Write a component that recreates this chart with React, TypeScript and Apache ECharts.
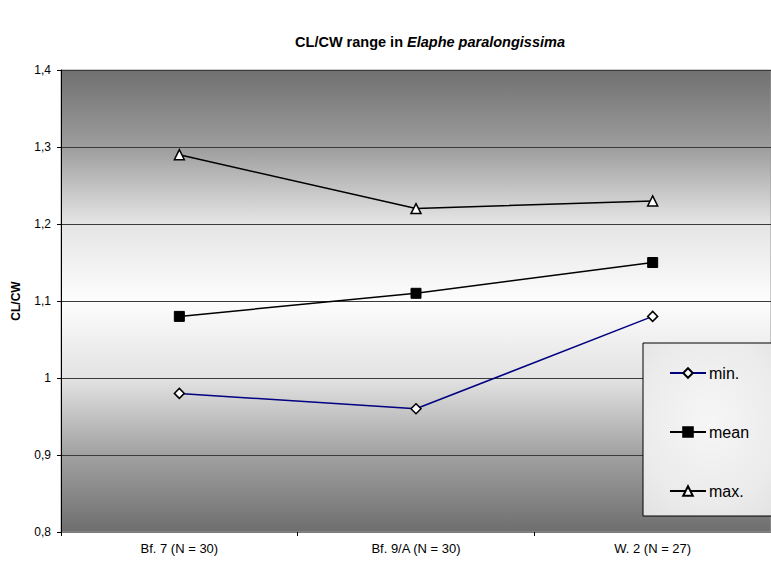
import React, { useEffect, useRef } from "react";
import * as echarts from "echarts";

const categories = ["Bf. 7 (N = 30)", "Bf. 9/A (N = 30)", "W. 2 (N = 27)"];
const minValues = [0.98, 0.96, 1.08];
const meanValues = [1.08, 1.11, 1.15];
const maxValues = [1.29, 1.22, 1.23];
const yTicks = { min: 0.8, max: 1.4, interval: 0.1 };

const FONT = "Liberation Sans, Arial, sans-serif";

export default function App() {
  const ref = useRef<HTMLDivElement>(null);
  useEffect(() => {
    if (!ref.current) return;
    const chart = echarts.init(ref.current, undefined, { renderer: "svg" });
    chart.setOption({
      animation: false,
      backgroundColor: "#ffffff",
      textStyle: { fontFamily: FONT },
      title: {
        text: "{b|CL/CW range in }{i|Elaphe paralongissima}",
        left: 425,
        top: 29,
        textAlign: "center",
        textStyle: {
          rich: {
            b: { fontFamily: FONT, fontWeight: "bold", fontSize: 14.5, color: "#000" },
            i: { fontFamily: FONT, fontWeight: "bold", fontStyle: "italic", fontSize: 14.5, color: "#000" },
          },
        },
      },
      grid: {
        left: 61,
        top: 70,
        width: 721,
        height: 462,
        show: true,
        borderColor: "#9a9a9a",
        borderWidth: 1,
        backgroundColor: {
          type: "linear",
          x: 0,
          y: 0,
          x2: 0,
          y2: 1,
          colorStops: [
            { offset: 0, color: "#707070" },
            { offset: 0.17, color: "#9e9e9e" },
            { offset: 0.33, color: "#e4e4e4" },
            { offset: 0.5, color: "#fdfdfd" },
            { offset: 0.67, color: "#e2e2e2" },
            { offset: 0.83, color: "#a2a2a2" },
            { offset: 1, color: "#6e6e6e" },
          ],
        },
      },
      xAxis: {
        type: "category",
        data: categories,
        boundaryGap: true,
        axisLine: { show: true, lineStyle: { color: "#7a7a7a", width: 1 } },
        axisTick: { show: true, length: 4, lineStyle: { color: "#000" } },
        axisLabel: { color: "#000", fontSize: 13, fontFamily: FONT, margin: 10 },
        splitLine: { show: false },
      },
      yAxis: {
        type: "value",
        min: yTicks.min,
        max: yTicks.max,
        interval: yTicks.interval,
        name: "CL/CW",
        nameLocation: "middle",
        nameGap: 39,
        nameTextStyle: { fontWeight: "bold", fontSize: 12, color: "#000", fontFamily: FONT },
        axisLine: { show: true, lineStyle: { color: "#000", width: 1 } },
        axisTick: { show: true, length: 4, lineStyle: { color: "#000" } },
        axisLabel: {
          color: "#000",
          fontSize: 12,
          fontFamily: FONT,
          margin: 10,
          formatter: (v: number) => String(Math.round(v * 10) / 10).replace(".", ","),
        },
        splitLine: { show: true, lineStyle: { color: "#3a3a3a", width: 1 } },
      },
      legend: {
        orient: "vertical",
        left: 669,
        top: 362,
        itemWidth: 36,
        itemHeight: 12,
        itemGap: 43,
        padding: [3, 5, 3, 0],
        z: 10,
        textStyle: { fontSize: 16, color: "#000", fontFamily: FONT, padding: [0, 0, 0, -2] },
        data: ["min.", "mean", "max."],
      },
      graphic: [
        {
          type: "rect",
          z: 5,
          shape: { x: 643, y: 343, width: 150, height: 173 },
          style: {
            fill: {
              type: "radial",
              x: 0.45,
              y: 0.45,
              r: 0.8,
              colorStops: [
                { offset: 0, color: "#f6f6f6" },
                { offset: 0.6, color: "#ebebeb" },
                { offset: 1, color: "#dedede" },
              ],
            },
            stroke: "#000",
            lineWidth: 1,
          },
        },
      ],
      series: [
        {
          name: "min.",
          type: "line",
          data: minValues,
          symbol: "diamond",
          symbolSize: 10,
          lineStyle: { color: "#000080", width: 1.5 },
          itemStyle: { color: "#ffffff", borderColor: "#000000", borderWidth: 1.5 },
          z: 3,
        },
        {
          name: "mean",
          type: "line",
          data: meanValues,
          symbol: "rect",
          symbolSize: 10,
          lineStyle: { color: "#000", width: 1.5 },
          itemStyle: { color: "#000", borderColor: "#000", borderWidth: 1 },
          z: 3,
        },
        {
          name: "max.",
          type: "line",
          data: maxValues,
          symbol: "triangle",
          symbolSize: 10,
          lineStyle: { color: "#000", width: 1.5 },
          itemStyle: { color: "#ffffff", borderColor: "#000", borderWidth: 1.5 },
          z: 3,
        },
      ],
    });
    return () => chart.dispose();
  }, []);
  return (
    <div
      ref={ref}
      style={{ position: "fixed", left: 0, top: 0, width: 771, height: 563 }}
    />
  );
}
